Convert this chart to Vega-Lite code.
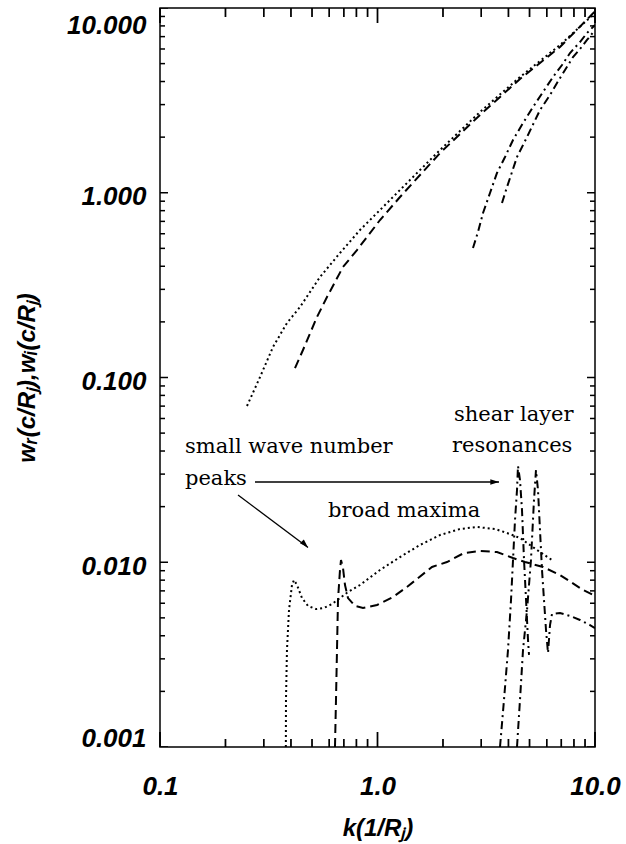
{
  "$schema": "https://vega.github.io/schema/vega-lite/v6.json",
  "width": 435,
  "height": 739,
  "autosize": {"type": "none"},
  "padding": {"left": 160, "top": 8, "right": 31, "bottom": 97},
  "background": "white",
  "config": {
    "view": {"stroke": "black", "strokeWidth": 1.5},
    "axis": {
      "domain": false, "grid": false, "ticks": false, "tickSize": 0,
      "labelColor": "black", "labelFont": "Liberation Sans", "labelFontSize": 26,
      "labelFontStyle": "italic", "labelFontWeight": "bold",
      "titleColor": "black", "titleFont": "Liberation Sans", "titleFontSize": 24,
      "titleFontStyle": "italic", "titleFontWeight": "bold"
    }
  },
  "resolve": {"axis": {"x": "independent", "y": "independent"}, "scale": {"size": "independent"}},
  "datasets": {
    "curves": [
      {"c": "d1u", "s": "dotted", "k": 0.2512, "w": 0.0701},
      {"c": "d1u", "s": "dotted", "k": 0.2884, "w": 0.1006},
      {"c": "d1u", "s": "dotted", "k": 0.3308, "w": 0.1463},
      {"c": "d1u", "s": "dotted", "k": 0.3835, "w": 0.1972},
      {"c": "d1u", "s": "dotted", "k": 0.4402, "w": 0.2407},
      {"c": "d1u", "s": "dotted", "k": 0.5441, "w": 0.3499},
      {"c": "d1u", "s": "dotted", "k": 0.6723, "w": 0.472},
      {"c": "d1u", "s": "dotted", "k": 0.8308, "w": 0.6287},
      {"c": "d1u", "s": "dotted", "k": 1.027, "w": 0.8065},
      {"c": "d1u", "s": "dotted", "k": 1.269, "w": 1.035},
      {"c": "d1u", "s": "dotted", "k": 1.939, "w": 1.704},
      {"c": "d1u", "s": "dotted", "k": 2.96, "w": 2.736},
      {"c": "d1u", "s": "dotted", "k": 4.52, "w": 4.232},
      {"c": "d1u", "s": "dotted", "k": 6.904, "w": 6.306},
      {"c": "d1u", "s": "dotted", "k": 10, "w": 9.4},

      {"c": "d2u", "s": "dashed", "k": 0.4175, "w": 0.1125},
      {"c": "d2u", "s": "dashed", "k": 0.4544, "w": 0.1409},
      {"c": "d2u", "s": "dashed", "k": 0.527, "w": 0.2126},
      {"c": "d2u", "s": "dashed", "k": 0.5859, "w": 0.2727},
      {"c": "d2u", "s": "dashed", "k": 0.694, "w": 0.3963},
      {"c": "d2u", "s": "dashed", "k": 0.8048, "w": 0.4898},
      {"c": "d2u", "s": "dashed", "k": 0.8949, "w": 0.5761},
      {"c": "d2u", "s": "dashed", "k": 1.027, "w": 0.7119},
      {"c": "d2u", "s": "dashed", "k": 1.269, "w": 0.948},
      {"c": "d2u", "s": "dashed", "k": 1.939, "w": 1.641},
      {"c": "d2u", "s": "dashed", "k": 2.96, "w": 2.636},
      {"c": "d2u", "s": "dashed", "k": 4.52, "w": 4.128},
      {"c": "d2u", "s": "dashed", "k": 6.904, "w": 6.151},
      {"c": "d2u", "s": "dashed", "k": 10, "w": 9.6},

      {"c": "c1u", "s": "dashdot", "k": 2.748, "w": 0.5023},
      {"c": "c1u", "s": "dashdot", "k": 2.898, "w": 0.6133},
      {"c": "c1u", "s": "dashdot", "k": 3.056, "w": 0.7772},
      {"c": "c1u", "s": "dashdot", "k": 3.29, "w": 0.997},
      {"c": "c1u", "s": "dashdot", "k": 3.543, "w": 1.279},
      {"c": "c1u", "s": "dashdot", "k": 3.857, "w": 1.561},
      {"c": "c1u", "s": "dashdot", "k": 4.198, "w": 1.93},
      {"c": "c1u", "s": "dashdot", "k": 4.667, "w": 2.385},
      {"c": "c1u", "s": "dashdot", "k": 5.187, "w": 2.911},
      {"c": "c1u", "s": "dashdot", "k": 5.767, "w": 3.511},
      {"c": "c1u", "s": "dashdot", "k": 6.412, "w": 4.232},
      {"c": "c1u", "s": "dashdot", "k": 7.052, "w": 4.916},
      {"c": "c1u", "s": "dashdot", "k": 7.676, "w": 5.706},
      {"c": "c1u", "s": "dashdot", "k": 8.531, "w": 6.546},
      {"c": "c1u", "s": "dashdot", "k": 9.189, "w": 7.325},
      {"c": "c1u", "s": "dashdot", "k": 10, "w": 8.091},

      {"c": "c2u", "s": "dashdot", "k": 3.736, "w": 0.88},
      {"c": "c2u", "s": "dashdot", "k": 3.939, "w": 1.074},
      {"c": "c2u", "s": "dashdot", "k": 4.154, "w": 1.295},
      {"c": "c2u", "s": "dashdot", "k": 4.379, "w": 1.561},
      {"c": "c2u", "s": "dashdot", "k": 4.87, "w": 2.004},
      {"c": "c2u", "s": "dashdot", "k": 5.586, "w": 2.804},
      {"c": "c2u", "s": "dashdot", "k": 6.211, "w": 3.382},
      {"c": "c2u", "s": "dashdot", "k": 6.688, "w": 3.928},
      {"c": "c2u", "s": "dashdot", "k": 7.28, "w": 4.617},
      {"c": "c2u", "s": "dashdot", "k": 7.924, "w": 5.43},
      {"c": "c2u", "s": "dashdot", "k": 8.531, "w": 5.999},
      {"c": "c2u", "s": "dashdot", "k": 9.189, "w": 6.712},
      {"c": "c2u", "s": "dashdot", "k": 10, "w": 7.603},

      {"c": "d1l", "s": "dotted", "k": 0.379, "w": 0.001},
      {"c": "d1l", "s": "dotted", "k": 0.3795, "w": 0.0018},
      {"c": "d1l", "s": "dotted", "k": 0.3835, "w": 0.00335},
      {"c": "d1l", "s": "dotted", "k": 0.3918, "w": 0.00551},
      {"c": "d1l", "s": "dotted", "k": 0.4044, "w": 0.00753},
      {"c": "d1l", "s": "dotted", "k": 0.4131, "w": 0.00801},
      {"c": "d1l", "s": "dotted", "k": 0.4265, "w": 0.00753},
      {"c": "d1l", "s": "dotted", "k": 0.4496, "w": 0.0064},
      {"c": "d1l", "s": "dotted", "k": 0.4792, "w": 0.0058},
      {"c": "d1l", "s": "dotted", "k": 0.5214, "w": 0.00558},
      {"c": "d1l", "s": "dotted", "k": 0.5675, "w": 0.00566},
      {"c": "d1l", "s": "dotted", "k": 0.6177, "w": 0.00594},
      {"c": "d1l", "s": "dotted", "k": 0.6723, "w": 0.0064},
      {"c": "d1l", "s": "dotted", "k": 0.7318, "w": 0.0069},
      {"c": "d1l", "s": "dotted", "k": 0.8308, "w": 0.00753},
      {"c": "d1l", "s": "dotted", "k": 1.027, "w": 0.00908},
      {"c": "d1l", "s": "dotted", "k": 1.269, "w": 0.01067},
      {"c": "d1l", "s": "dotted", "k": 1.568, "w": 0.0124},
      {"c": "d1l", "s": "dotted", "k": 1.939, "w": 0.01404},
      {"c": "d1l", "s": "dotted", "k": 2.395, "w": 0.01514},
      {"c": "d1l", "s": "dotted", "k": 2.867, "w": 0.01551},
      {"c": "d1l", "s": "dotted", "k": 3.469, "w": 0.01514},
      {"c": "d1l", "s": "dotted", "k": 3.939, "w": 0.0144},
      {"c": "d1l", "s": "dotted", "k": 4.52, "w": 0.01353},
      {"c": "d1l", "s": "dotted", "k": 5.024, "w": 0.0124},
      {"c": "d1l", "s": "dotted", "k": 5.586, "w": 0.01136},
      {"c": "d1l", "s": "dotted", "k": 6.344, "w": 0.01028},

      {"c": "d2l", "s": "dashed", "k": 0.6376, "w": 0.001},
      {"c": "d2l", "s": "dashed", "k": 0.6444, "w": 0.0018},
      {"c": "d2l", "s": "dashed", "k": 0.6513, "w": 0.00335},
      {"c": "d2l", "s": "dashed", "k": 0.6582, "w": 0.00625},
      {"c": "d2l", "s": "dashed", "k": 0.6723, "w": 0.00908},
      {"c": "d2l", "s": "dashed", "k": 0.6795, "w": 0.01028},
      {"c": "d2l", "s": "dashed", "k": 0.694, "w": 0.00931},
      {"c": "d2l", "s": "dashed", "k": 0.7089, "w": 0.00753},
      {"c": "d2l", "s": "dashed", "k": 0.7318, "w": 0.0064},
      {"c": "d2l", "s": "dashed", "k": 0.788, "w": 0.0058},
      {"c": "d2l", "s": "dashed", "k": 0.8576, "w": 0.00566},
      {"c": "d2l", "s": "dashed", "k": 0.9947, "w": 0.00587},
      {"c": "d2l", "s": "dashed", "k": 1.178, "w": 0.00648},
      {"c": "d2l", "s": "dashed", "k": 1.366, "w": 0.00735},
      {"c": "d2l", "s": "dashed", "k": 1.781, "w": 0.00943},
      {"c": "d2l", "s": "dashed", "k": 2.087, "w": 0.01003},
      {"c": "d2l", "s": "dashed", "k": 2.499, "w": 0.01122},
      {"c": "d2l", "s": "dashed", "k": 2.96, "w": 0.0115},
      {"c": "d2l", "s": "dashed", "k": 3.543, "w": 0.01136},
      {"c": "d2l", "s": "dashed", "k": 4.198, "w": 0.01054},
      {"c": "d2l", "s": "dashed", "k": 4.768, "w": 0.01003},
      {"c": "d2l", "s": "dashed", "k": 5.767, "w": 0.00943},
      {"c": "d2l", "s": "dashed", "k": 6.904, "w": 0.00853},
      {"c": "d2l", "s": "dashed", "k": 8.806, "w": 0.00708},
      {"c": "d2l", "s": "dashed", "k": 10, "w": 0.00657},

      {"c": "c1l", "s": "dashdot", "k": 3.658, "w": 0.001},
      {"c": "c1l", "s": "dashdot", "k": 3.816, "w": 0.0018},
      {"c": "c1l", "s": "dashdot", "k": 3.981, "w": 0.00335},
      {"c": "c1l", "s": "dashdot", "k": 4.11, "w": 0.00625},
      {"c": "c1l", "s": "dashdot", "k": 4.198, "w": 0.01028},
      {"c": "c1l", "s": "dashdot", "k": 4.288, "w": 0.01693},
      {"c": "c1l", "s": "dashdot", "k": 4.379, "w": 0.0246},
      {"c": "c1l", "s": "dashdot", "k": 4.426, "w": 0.0332},
      {"c": "c1l", "s": "dashdot", "k": 4.52, "w": 0.02787},
      {"c": "c1l", "s": "dashdot", "k": 4.617, "w": 0.01918},
      {"c": "c1l", "s": "dashdot", "k": 4.717, "w": 0.01028},
      {"c": "c1l", "s": "dashdot", "k": 4.819, "w": 0.00625},
      {"c": "c1l", "s": "dashdot", "k": 4.92, "w": 0.0038},
      {"c": "c1l", "s": "dashdot", "k": 4.973, "w": 0.00315},

      {"c": "c2l", "s": "dashdot", "k": 4.379, "w": 0.001},
      {"c": "c2l", "s": "dashdot", "k": 4.52, "w": 0.0018},
      {"c": "c2l", "s": "dashdot", "k": 4.667, "w": 0.00335},
      {"c": "c2l", "s": "dashdot", "k": 4.87, "w": 0.00551},
      {"c": "c2l", "s": "dashdot", "k": 5.077, "w": 0.01028},
      {"c": "c2l", "s": "dashdot", "k": 5.242, "w": 0.02173},
      {"c": "c2l", "s": "dashdot", "k": 5.354, "w": 0.03157},
      {"c": "c2l", "s": "dashdot", "k": 5.469, "w": 0.0246},
      {"c": "c2l", "s": "dashdot", "k": 5.586, "w": 0.01495},
      {"c": "c2l", "s": "dashdot", "k": 5.706, "w": 0.00908},
      {"c": "c2l", "s": "dashdot", "k": 5.828, "w": 0.00625},
      {"c": "c2l", "s": "dashdot", "k": 5.953, "w": 0.0043},
      {"c": "c2l", "s": "dashdot", "k": 6.081, "w": 0.00323},
      {"c": "c2l", "s": "dashdot", "k": 6.211, "w": 0.00457},
      {"c": "c2l", "s": "dashdot", "k": 6.344, "w": 0.00525},
      {"c": "c2l", "s": "dashdot", "k": 6.904, "w": 0.00531},
      {"c": "c2l", "s": "dashdot", "k": 7.676, "w": 0.00512},
      {"c": "c2l", "s": "dashdot", "k": 8.531, "w": 0.00487},
      {"c": "c2l", "s": "dashdot", "k": 9.485, "w": 0.00457},
      {"c": "c2l", "s": "dashdot", "k": 10, "w": 0.0044}
    ],
    "notes": [
      {"t": "small wave number", "k": 0.1303, "w": 0.03903},
      {"t": "peaks", "k": 0.1303, "w": 0.02619},
      {"t": "broad maxima", "k": 0.5922, "w": 0.01758},
      {"t": "shear layer", "k": 2.247, "w": 0.05815},
      {"t": "resonances", "k": 2.2, "w": 0.03951}
    ],
    "arrows": [
      {"a": "h", "k": 0.2734, "w": 0.02719},
      {"a": "h", "k": 3.619, "w": 0.02719},
      {"a": "d", "k": 0.2284, "w": 0.02312},
      {"a": "d", "k": 0.4792, "w": 0.01202}
    ],
    "headH": [{"k": 3.619, "w": 0.02719}],
    "headD": [{"k": 0.4792, "w": 0.01202}],
    "kmajor": [{"v": 0.1}, {"v": 1}, {"v": 10}],
    "kminor": [
      {"v": 0.2}, {"v": 0.3}, {"v": 0.4}, {"v": 0.5}, {"v": 0.6}, {"v": 0.7}, {"v": 0.8}, {"v": 0.9},
      {"v": 2}, {"v": 3}, {"v": 4}, {"v": 5}, {"v": 6}, {"v": 7}, {"v": 8}, {"v": 9}
    ],
    "wgrid": [
      {"v": 0.001, "kind": "major"}, {"v": 0.002, "kind": "minor"}, {"v": 0.003, "kind": "minor"},
      {"v": 0.004, "kind": "minor"}, {"v": 0.005, "kind": "minor"}, {"v": 0.006, "kind": "minor"},
      {"v": 0.007, "kind": "minor"}, {"v": 0.008, "kind": "minor"}, {"v": 0.009, "kind": "minor"},
      {"v": 0.01, "kind": "major"}, {"v": 0.02, "kind": "minor"}, {"v": 0.03, "kind": "minor"},
      {"v": 0.04, "kind": "minor"}, {"v": 0.05, "kind": "minor"}, {"v": 0.06, "kind": "minor"},
      {"v": 0.07, "kind": "minor"}, {"v": 0.08, "kind": "minor"}, {"v": 0.09, "kind": "minor"},
      {"v": 0.1, "kind": "major"}, {"v": 0.2, "kind": "minor"}, {"v": 0.3, "kind": "minor"},
      {"v": 0.4, "kind": "minor"}, {"v": 0.5, "kind": "minor"}, {"v": 0.6, "kind": "minor"},
      {"v": 0.7, "kind": "minor"}, {"v": 0.8, "kind": "minor"}, {"v": 0.9, "kind": "minor"},
      {"v": 1, "kind": "major"}, {"v": 2, "kind": "minor"}, {"v": 3, "kind": "minor"},
      {"v": 4, "kind": "minor"}, {"v": 5, "kind": "minor"}, {"v": 6, "kind": "minor"},
      {"v": 7, "kind": "minor"}, {"v": 8, "kind": "minor"}, {"v": 9, "kind": "minor"},
      {"v": 10, "kind": "major"}
    ]
  },
  "layer": [
    {
      "data": {"name": "curves"},
      "mark": {"type": "line", "clip": true, "strokeWidth": 2, "color": "black"},
      "encoding": {
        "x": {"field": "k", "type": "quantitative",
          "scale": {"type": "log", "domain": [0.1, 10]},
          "axis": {"orient": "bottom", "values": [0.1, 1, 10], "format": ".1f", "ticks": false, "tickSize": 0,
            "labelPadding": 26, "labelFlush": false, "labelOverlap": false,
            "title": "k(1/Rⱼ)", "titlePadding": 17}},
        "y": {"field": "w", "type": "quantitative",
          "scale": {"type": "log", "domain": [0.001, 10]},
          "axis": {"orient": "left", "values": [0.001, 0.01, 0.1, 1, 10], "format": ".3f", "ticks": false, "tickSize": 0,
            "labelPadding": 14, "labelFlush": true, "labelOverlap": false, "labelOffset": 4,
            "title": "wᵣ(c/Rⱼ),wᵢ(c/Rⱼ)", "titlePadding": 27}},
        "detail": {"field": "c"},
        "strokeDash": {"field": "s", "type": "nominal",
          "scale": {"domain": ["dotted", "dashed", "dashdot"], "range": [[2, 3], [9, 5], [8, 4, 2, 4]]},
          "legend": null}
      }
    },
    {
      "data": {"name": "kmajor"},
      "mark": {"type": "rule", "color": "black", "strokeWidth": 1.5},
      "encoding": {
        "x": {"field": "v", "type": "quantitative", "scale": {"type": "log", "domain": [0.1, 10]}, "axis": null},
        "y": {"datum": 0.001, "type": "quantitative", "scale": {"type": "log", "domain": [0.001, 10]}, "axis": null},
        "y2": {"datum": 0.0012055}
      }
    },
    {
      "data": {"name": "kminor"},
      "mark": {"type": "rule", "color": "black", "strokeWidth": 1.5},
      "encoding": {
        "x": {"field": "v", "type": "quantitative", "scale": {"type": "log", "domain": [0.1, 10]}, "axis": null},
        "y": {"datum": 0.001, "type": "quantitative", "scale": {"type": "log", "domain": [0.001, 10]}, "axis": null},
        "y2": {"datum": 0.001105}
      }
    },
    {
      "data": {"name": "kmajor"},
      "mark": {"type": "rule", "color": "black", "strokeWidth": 1.5},
      "encoding": {
        "x": {"field": "v", "type": "quantitative", "scale": {"type": "log", "domain": [0.1, 10]}, "axis": null},
        "y": {"datum": 10, "type": "quantitative", "scale": {"type": "log", "domain": [0.001, 10]}, "axis": null},
        "y2": {"datum": 8.295}
      }
    },
    {
      "data": {"name": "kminor"},
      "mark": {"type": "rule", "color": "black", "strokeWidth": 1.5},
      "encoding": {
        "x": {"field": "v", "type": "quantitative", "scale": {"type": "log", "domain": [0.1, 10]}, "axis": null},
        "y": {"datum": 10, "type": "quantitative", "scale": {"type": "log", "domain": [0.001, 10]}, "axis": null},
        "y2": {"datum": 8.939}
      }
    },
    {
      "data": {"name": "kmajor"},
      "mark": {"type": "tick", "orient": "vertical", "color": "black", "thickness": 1.5, "size": 15},
      "encoding": {
        "x": {"field": "v", "type": "quantitative", "scale": {"type": "log", "domain": [0.1, 10]}, "axis": null},
        "y": {"datum": 0.001098, "type": "quantitative", "scale": {"type": "log", "domain": [0.001, 10]}, "axis": null}
      }
    },
    {
      "data": {"name": "kminor"},
      "mark": {"type": "tick", "orient": "vertical", "color": "black", "thickness": 1.5, "size": 8},
      "encoding": {
        "x": {"field": "v", "type": "quantitative", "scale": {"type": "log", "domain": [0.1, 10]}, "axis": null},
        "y": {"datum": 0.001051, "type": "quantitative", "scale": {"type": "log", "domain": [0.001, 10]}, "axis": null}
      }
    },
    {
      "data": {"name": "kmajor"},
      "mark": {"type": "tick", "orient": "vertical", "color": "black", "thickness": 1.5, "size": 15},
      "encoding": {
        "x": {"field": "v", "type": "quantitative", "scale": {"type": "log", "domain": [0.1, 10]}, "axis": null},
        "y": {"datum": 9.108, "type": "quantitative", "scale": {"type": "log", "domain": [0.001, 10]}, "axis": null}
      }
    },
    {
      "data": {"name": "kminor"},
      "mark": {"type": "tick", "orient": "vertical", "color": "black", "thickness": 1.5, "size": 9},
      "encoding": {
        "x": {"field": "v", "type": "quantitative", "scale": {"type": "log", "domain": [0.1, 10]}, "axis": null},
        "y": {"datum": 9.455, "type": "quantitative", "scale": {"type": "log", "domain": [0.001, 10]}, "axis": null}
      }
    },
    {
      "data": {"name": "wgrid"},
      "mark": {"type": "tick", "orient": "horizontal", "clip": true, "color": "black", "thickness": 1.5, "opacity": 1},
      "encoding": {
        "x": {"datum": 0.1, "type": "quantitative", "scale": {"type": "log", "domain": [0.1, 10]}, "axis": null},
        "y": {"field": "v", "type": "quantitative", "scale": {"type": "log", "domain": [0.001, 10]}, "axis": null},
        "size": {"field": "kind", "type": "nominal", "scale": {"domain": ["major", "minor"], "range": [16, 10]}, "legend": null}
      }
    },
    {
      "data": {"name": "wgrid"},
      "mark": {"type": "tick", "orient": "horizontal", "clip": true, "color": "black", "thickness": 1.5, "opacity": 1},
      "encoding": {
        "x": {"datum": 10, "type": "quantitative", "scale": {"type": "log", "domain": [0.1, 10]}, "axis": null},
        "y": {"field": "v", "type": "quantitative", "scale": {"type": "log", "domain": [0.001, 10]}, "axis": null},
        "size": {"field": "kind", "type": "nominal", "scale": {"domain": ["major", "minor"], "range": [16, 10]}, "legend": null}
      }
    },
    {
      "data": {"name": "arrows"},
      "mark": {"type": "line", "strokeWidth": 1.3, "color": "black"},
      "encoding": {
        "x": {"field": "k", "type": "quantitative", "scale": {"type": "log", "domain": [0.1, 10]}, "axis": null},
        "y": {"field": "w", "type": "quantitative", "scale": {"type": "log", "domain": [0.001, 10]}, "axis": null},
        "detail": {"field": "a"}
      }
    },
    {
      "data": {"name": "headH"},
      "mark": {"type": "point", "shape": "M0,0L-1,-0.32L-1,0.32Z", "filled": true, "color": "black", "opacity": 1, "size": 300, "angle": 0},
      "encoding": {
        "x": {"field": "k", "type": "quantitative", "scale": {"type": "log", "domain": [0.1, 10]}, "axis": null},
        "y": {"field": "w", "type": "quantitative", "scale": {"type": "log", "domain": [0.001, 10]}, "axis": null}
      }
    },
    {
      "data": {"name": "headD"},
      "mark": {"type": "point", "shape": "M0,0L-1,-0.32L-1,0.32Z", "filled": true, "color": "black", "opacity": 1, "size": 300, "angle": 45},
      "encoding": {
        "x": {"field": "k", "type": "quantitative", "scale": {"type": "log", "domain": [0.1, 10]}, "axis": null},
        "y": {"field": "w", "type": "quantitative", "scale": {"type": "log", "domain": [0.001, 10]}, "axis": null}
      }
    },
    {
      "data": {"name": "notes"},
      "mark": {"type": "text", "align": "left", "baseline": "alphabetic", "font": "DejaVu Serif", "fontSize": 21, "color": "black"},
      "encoding": {
        "x": {"field": "k", "type": "quantitative", "scale": {"type": "log", "domain": [0.1, 10]}, "axis": null},
        "y": {"field": "w", "type": "quantitative", "scale": {"type": "log", "domain": [0.001, 10]}, "axis": null},
        "text": {"field": "t"}
      }
    }
  ]
}
